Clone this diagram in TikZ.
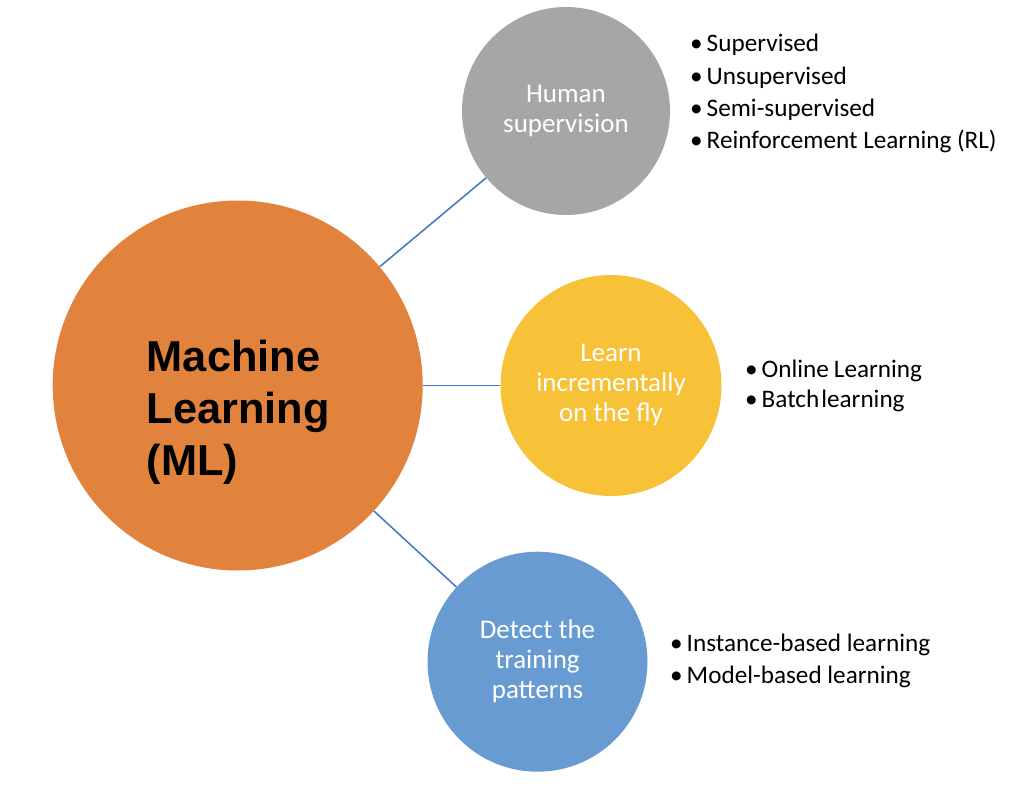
\documentclass[tikz,border=0pt]{standalone}
\usepackage{fontspec}
\setmainfont{Carlito}
\newfontfamily\titlefont{Liberation Sans}
\usetikzlibrary{positioning}
\definecolor{mlorange}{RGB}{226, 131, 61}
\definecolor{mlgray}{RGB}{166, 166, 166}
\definecolor{mlyellow}{RGB}{247, 193, 56}
\definecolor{mlblue}{RGB}{104, 155, 210}
\definecolor{mlline}{RGB}{68, 114, 196}

\begin{document}
\begin{tikzpicture}[x=1pt, y=-1pt,
        every node/.style={font=\fontsize{27}{30}\selectfont},
        bubble/.style={circle, inner sep=0pt, text=white, align=center},
        item/.style={anchor=base west, inner sep=0pt, font=\fontsize{25.2}{30}\selectfont},
        link/.style={draw=mlline, line width=1.5pt}]
    \useasboundingbox (0,0) rectangle (1027,797);

    \node[circle, fill=mlorange, minimum size=370pt, inner sep=0pt] (ML) at (237.7, 385.5) {};
    \node[align=left, inner sep=0pt, anchor=base west, font=\titlefont\bfseries\fontsize{43.3}{51.7}\selectfont]
        (MLtxt) at (146.7, 475) {Machine\\Learning\\(ML)};

    \node[bubble, fill=mlgray, minimum size=208pt] (HS) at (566, 111) {Human\\supervision};
    \node[bubble, fill=mlyellow, minimum size=221pt] (LF) at (611, 385.5) {Learn\\incrementally\\on the fly};
    \node[bubble, fill=mlblue, minimum size=220pt] (DT) at (537.5, 661.7) {Detect the\\training\\patterns};

    \draw[link] (ML) -- (HS);
    \draw[link] (ML) -- (LF);
    \draw[link] (ML) -- (DT);

    \foreach \t [count=\i] in {Supervised, Unsupervised, Semi-supervised, Reinforcement Learning (RL)}{
        \node[item] (HS\i) at (690, {52+32.3*(\i-1)}) {\textbullet\hspace{4pt}\t};
    }
    \foreach \t [count=\i] in {Online\hspace{5pt}Learning, Batch\hspace{2pt}learning}{
        \node[item] (LF\i) at (745, {377+30.5*(\i-1)}) {\textbullet\hspace{4pt}\t};
    }
    \foreach \t [count=\i] in {Instance-based learning, Model-based learning}{
        \node[item] (DT\i) at (670, {651.5+31.8*(\i-1)}) {\textbullet\hspace{4pt}\t};
    }
\end{tikzpicture}
\end{document}
